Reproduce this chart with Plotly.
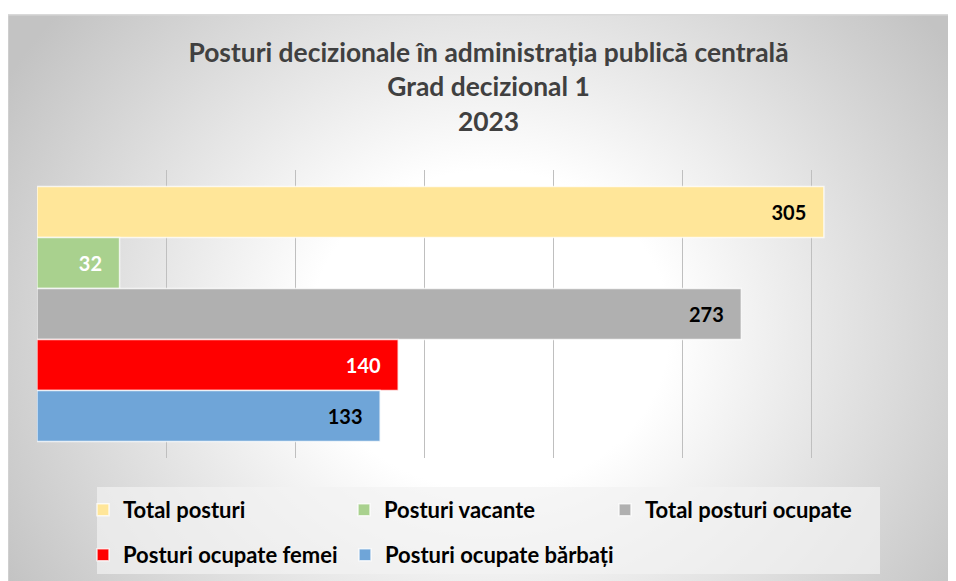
import base64
import plotly.graph_objects as go

# ---- data ----
categories = ["Grad decizional 1"]
series_names = ["Total posturi", "Posturi vacante", "Total posturi ocupate",
                "Posturi ocupate femei", "Posturi ocupate bărbați"]
values = [305, 32, 273, 140, 133]
x_ticks = [0, 50, 100, 150, 200, 250, 300, 350]
title_lines = ["Posturi decizionale în administrația publică centrală",
               "Grad decizional 1", "2023"]

# ---- styles ----
colors = ["#FFE699", "#A9D18E", "#B0B0B0", "#FF0000", "#6FA5D8"]
label_colors = ["#000000", "#FFFFFF", "#000000", "#FFFFFF", "#000000"]
legend_ids = ["legend", "legend", "legend", "legend2", "legend3"]
FONT = "Lato"

OFF = 8                       # page body margin
W, H = 956 - OFF, 581 - OFF   # figure size
# plot area in page pixels: x 37..940, y 170..458
L, R, T, B = 37 - OFF, W - (940 - OFF), 170 - OFF, H - (458 - OFF)
PW = W - L - R
PH = H - T - B


def px_x(p):          # page pixel -> paper x
    return (p - OFF - L) / PW


def px_y(p):          # page pixel -> paper y
    return (H - B - (p - OFF)) / PH


# radial gradient background (chart area) as an SVG image
bw, bh = 970, 600
svg = f"""<svg xmlns='http://www.w3.org/2000/svg' width='{bw}' height='{bh}'>
<defs><radialGradient id='g' gradientUnits='userSpaceOnUse' cx='483' cy='316' r='560'
gradientTransform='translate(483 316) scale(1 0.89) translate(-483 -316)'>
<stop offset='0.32' stop-color='#ffffff'/><stop offset='1' stop-color='#c3c3c3'/>
</radialGradient></defs>
<rect x='0' y='0' width='{bw}' height='{bh}' fill='url(#g)'/>
<path d='M0.75,{bh} V0.75 H{bw}' fill='none' stroke='#d9d9d9' stroke-width='1.5'/>
</svg>"""
src = "data:image/svg+xml;base64," + base64.b64encode(svg.encode()).decode()

fig = go.Figure()
for name, v, c, lc, lid in zip(series_names, values, colors, label_colors, legend_ids):
    fig.add_trace(go.Bar(
        y=categories, x=[v], orientation="h", name=name,
        marker=dict(color=c, line=dict(color="rgba(255,255,255,0.75)", width=1.5)),
        text=[str(v)], texttemplate="%{text}" + "\u00a0" * 3,
        textposition="inside", insidetextanchor="end", constraintext="none",
        textfont=dict(family=FONT, size=20, color=lc, weight="bold"),
        legend=lid, hoverinfo="skip",
    ))

legend_common = dict(
    orientation="h", xanchor="left", yanchor="middle", bgcolor="rgba(0,0,0,0)",
    font=dict(family=FONT, size=22, color="#000000", weight="bold"),
    itemclick=False, itemdoubleclick=False, traceorder="normal",
)

fig.update_layout(
    width=W, height=H,
    margin=dict(l=L, r=R, t=T, b=B, autoexpand=False),
    paper_bgcolor="#ffffff", plot_bgcolor="rgba(0,0,0,0)",
    barmode="group", bargap=0.115, bargroupgap=0,
    title=dict(text="<br>".join(title_lines), x=0.5, xref="paper", xanchor="center",
               y=1 - 54 / H, yref="container", yanchor="top",
               font=dict(family=FONT, size=26.4, color="#404040", weight="bold")),
    xaxis=dict(range=[x_ticks[0], x_ticks[-1]], tickvals=x_ticks, showticklabels=False,
               showgrid=True, gridcolor="#bfbfbf", gridwidth=1, zeroline=False,
               showline=False, ticks="", fixedrange=True),
    yaxis=dict(autorange="reversed", showticklabels=False, showgrid=False,
               zeroline=False, showline=False, ticks="", fixedrange=True),
    legend=dict(x=px_x(83), y=px_y(510), entrywidth=216, entrywidthmode="pixels",
                **legend_common),
    legend2=dict(x=px_x(83), y=px_y(555), **legend_common),
    legend3=dict(x=px_x(345), y=px_y(555), **legend_common),
    images=[dict(source=src, xref="paper", yref="paper", x=px_x(7), y=px_y(14),
                 sizex=bw / PW, sizey=bh / PH, xanchor="left", yanchor="top",
                 sizing="stretch", layer="below")],
    shapes=[dict(type="rect", xref="paper", yref="paper",
                 x0=px_x(97), x1=px_x(880), y0=px_y(574), y1=px_y(487),
                 fillcolor="rgba(242,242,242,0.7)", line=dict(width=0), layer="below")],
    showlegend=True,
)

fig.write_html("out.html")
